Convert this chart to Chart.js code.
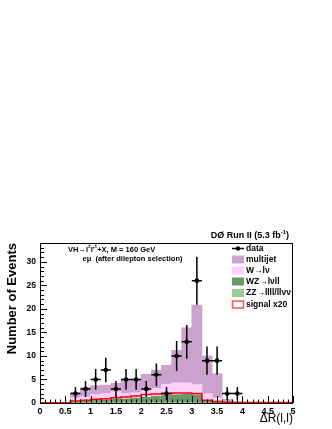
<!DOCTYPE html>
<html>
<head>
<meta charset="utf-8">
<script src="https://cdn.jsdelivr.net/npm/chart.js@4.4.0/dist/chart.umd.min.js"></script>
<style>
  html, body { margin: 0; padding: 0; background: #fff; }
</style>
</head>
<body>
<canvas id="drChart" width="332" height="429"></canvas>
<script>
// ΔR(l,l) bins, width 0.2
const binCenters = [0.1, 0.3, 0.5, 0.7, 0.9, 1.1, 1.3, 1.5, 1.7, 1.9, 2.1, 2.3, 2.5,
                    2.7, 2.9, 3.1, 3.3, 3.5, 3.7, 3.9, 4.1, 4.3, 4.5, 4.7, 4.9];
const binWidth = 0.2;

// backgrounds (stacked, bottom to top)
const zz = [0, 0, 0, 0.05, 0.05, 0.08, 0.08, 0.1, 0.1, 0.12, 0.12, 0.15, 0.15,
            0.15, 0.15, 0.15, 0.05, 0.03, 0.02, 0, 0, 0, 0, 0, 0];
const wz = [0, 0, 0, 0.25, 0.35, 0.47, 0.52, 0.7, 0.75, 0.93, 1.08, 1.25, 1.45,
            1.6, 1.7, 1.6, 0.5, 0.27, 0.13, 0.05, 0, 0, 0, 0, 0];
const wlnu = [0, 0, 0, 0.8, 0.9, 1.25, 1.4, 1.6, 1.15, 1.15, 1.4, 1.7, 2.4,
              2.55, 2.45, 2.15, 1.45, 0.8, 0.05, 0.05, 0, 0, 0, 0, 0];
const multijet = [0, 0, 0, 1.1, 2.0, 1.9, 1.8, 1.8, 2.9, 2.8, 3.5, 3.9, 4.0,
                  6.9, 11.7, 16.9, 8.0, 5.1, 0.6, 0.2, 0.1, 0.05, 0.05, 0.05, 0.05];

// signal x20
const signal = [0.05, 0.05, 0.05, 0.4, 0.6, 0.8, 0.9, 1.1, 1.3, 1.5, 1.8, 1.9, 2.0,
                2.1, 2.1, 2.0, 0.6, 0.3, 0.15, 0.1, 0.1, 0.1, 0.1, 0.1, 0.1];

// data and errors
const dataCounts = [0, 0, 0, 2, 3, 5, 7, 3, 5, 5, 3, 6, 2, 10, 13, 26, 9, 9, 2, 2, 0, 0, 0, 0, 0];
const dataErr = [0, 0, 0, 1.4, 1.7, 2.2, 2.6, 1.7, 2.2, 2.2, 1.7, 2.4, 1.4,
                 3.2, 3.6, 5.1, 3.0, 3.0, 1.4, 1.4, 0, 0, 0, 0, 0];

const FONT = "'Liberation Sans', Arial, Helvetica, sans-serif";

const toPts = (vals) => binCenters.map((c, i) => ({ x: c, y: vals[i] }));

// step line through bin edges
const sigPts = binCenters.map((c, i) => ({ x: c - binWidth / 2, y: signal[i] }));
sigPts.push({ x: binCenters[binCenters.length - 1] + binWidth / 2, y: signal[signal.length - 1] });

const dataPts = binCenters
    .map((c, i) => ({ x: c, y: dataCounts[i], err: dataErr[i] }))
    .filter((p) => p.y > 0);

const barDs = (label, vals, color) => ({
    type: "bar",
    label,
    data: toPts(vals),
    backgroundColor: color,
    borderWidth: 0,
    barPercentage: 1,
    categoryPercentage: 1,
    stack: "bg",
    order: 2,
});

const frameTicks = {
    id: "frameTicks",
    afterDatasetsDraw(chart) {
        const { ctx, chartArea: a, scales: { x, y } } = chart;
        ctx.save();
        // data error bars
        const di = chart.data.datasets.findIndex((d) => d.label === "data");
        ctx.strokeStyle = "#000";
        ctx.lineWidth = 1.5;
        ctx.beginPath();
        chart.data.datasets[di].data.forEach((p) => {
            const px = x.getPixelForValue(p.x);
            const py = y.getPixelForValue(p.y);
            ctx.moveTo(px, y.getPixelForValue(p.y + p.err));
            ctx.lineTo(px, y.getPixelForValue(Math.max(0, p.y - p.err)));
            ctx.moveTo(x.getPixelForValue(p.x - binWidth / 2), py);
            ctx.lineTo(x.getPixelForValue(p.x + binWidth / 2), py);
        });
        ctx.stroke();

        // frame + inward ticks
        ctx.lineWidth = 1;
        ctx.strokeRect(a.left + 0.5, a.top + 0.5, a.right - a.left - 1, a.bottom - a.top);
        ctx.beginPath();
        for (let v = 0; v <= 34; v++) {
            const py = Math.round(y.getPixelForValue(v)) + 0.5;
            const len = v % 5 === 0 ? 7 : 4;
            ctx.moveTo(a.left, py);
            ctx.lineTo(a.left + len, py);
        }
        for (let i = 0; i <= 50; i++) {
            const px = Math.round(x.getPixelForValue(i / 10)) + 0.5;
            const len = i % 5 === 0 ? 7 : 3.5;
            ctx.moveTo(px, a.bottom);
            ctx.lineTo(px, a.bottom - len);
        }
        ctx.stroke();
        ctx.restore();
    },
};

// draw text runs with superscripts
function drawRuns(ctx, runs, x, y, size, weight, align) {
    const fontFor = (sup) => `${weight} ${sup ? size * 0.65 : size}px ${FONT}`;
    let total = 0;
    runs.forEach((r) => { ctx.font = fontFor(r.sup); total += ctx.measureText(r.t).width; });
    let cx = align === "right" ? x - total : x;
    ctx.textAlign = "left";
    ctx.textBaseline = "middle";
    runs.forEach((r) => {
        ctx.font = fontFor(r.sup);
        ctx.fillText(r.t, cx, r.sup ? y - size * 0.35 : y);
        cx += ctx.measureText(r.t).width;
    });
}

const annotations = {
    id: "annotations",
    afterDraw(chart) {
        const { ctx } = chart;
        ctx.save();
        ctx.fillStyle = "#000";

        drawRuns(ctx, [{ t: "DØ Run II (5.3 fb" }, { t: "-1", sup: true }, { t: ")" }],
            289, 235.5, 9, "bold", "right");

        drawRuns(ctx, [{ t: "VH→l" }, { t: "±", sup: true }, { t: "l'" }, { t: "±", sup: true },
            { t: "+X, M = 160 GeV" }], 68, 249.5, 7.5, "bold", "left");
        drawRuns(ctx, [{ t: "eμ  (after dilepton selection)" }], 82.5, 259, 7.5, "bold", "left");

        // legend
        const lx = 232, tx = 246;
        const rows = [
            { label: "data", kind: "data", y: 248.5 },
            { label: "multijet", color: "#cca3ce", y: 259.5 },
            { label: "W→lν", color: "#ffd0fc", y: 270.5 },
            { label: "WZ→lνll", color: "#699869", y: 281.5 },
            { label: "ZZ→llll/llνν", color: "#99cc99", y: 293 },
            { label: "signal x20", kind: "line", y: 304.5 },
        ];
        rows.forEach((r) => {
            if (r.kind === "data") {
                ctx.strokeStyle = "#000";
                ctx.lineWidth = 1.5;
                ctx.beginPath();
                ctx.moveTo(lx, r.y);
                ctx.lineTo(lx + 12, r.y);
                ctx.stroke();
                ctx.beginPath();
                ctx.arc(lx + 6, r.y, 2.2, 0, Math.PI * 2);
                ctx.fill();
            } else if (r.kind === "line") {
                ctx.strokeStyle = "#ff5050";
                ctx.lineWidth = 1.5;
                ctx.strokeRect(lx + 0.5, r.y - 3.5, 11, 7);
            } else {
                ctx.fillStyle = r.color;
                ctx.fillRect(lx, r.y - 4, 12, 8);
            }
            ctx.fillStyle = "#000";
            drawRuns(ctx, [{ t: r.label }], tx, r.y, 8.5, "bold", "left");
        });
        ctx.restore();
    },
};

new Chart(document.getElementById("drChart"), {
    type: "bar",
    data: {
        datasets: [
            barDs("ZZ→llll/llνν", zz, "#99cc99"),
            barDs("WZ→lνll", wz, "#699869"),
            barDs("W→lν", wlnu, "#ffd0fc"),
            barDs("multijet", multijet, "#cca3ce"),
            {
                type: "line",
                label: "signal x20",
                data: sigPts,
                stepped: true,
                borderColor: "#ff0000",
                borderWidth: 1.5,
                pointRadius: 0,
                fill: false,
                stack: "sig",
                order: 1,
            },
            {
                type: "line",
                label: "data",
                data: dataPts,
                showLine: false,
                pointRadius: 2.3,
                pointBackgroundColor: "#000",
                pointBorderColor: "#000",
                pointBorderWidth: 0,
                stack: "data",
                order: 0,
            },
        ],
    },
    options: {
        responsive: false,
        animation: false,
        layout: { padding: { top: 243, right: 39, left: 0, bottom: 0 } },
        plugins: {
            legend: { display: false },
            tooltip: { enabled: false },
        },
        scales: {
            x: {
                type: "linear",
                min: 0,
                max: 5,
                offset: false,
                stacked: true,
                grid: { display: false, drawTicks: false, offset: false },
                border: { display: false },
                ticks: {
                    stepSize: 0.5,
                    autoSkip: false,
                    maxRotation: 0,
                    padding: 3,
                    color: "#000",
                    font: { family: FONT, size: 9, weight: "bold" },
                    callback: (v) => String(Math.round(v * 10) / 10),
                },
                title: {
                    display: true,
                    text: "ΔR(l,l)",
                    align: "end",
                    color: "#000",
                    font: { family: FONT, size: 12 },
                    padding: { top: 0, bottom: 3 },
                },
                afterFit: (s) => { s.height = 26; },
            },
            y: {
                min: 0,
                max: 34,
                stacked: true,
                grid: { display: false, drawTicks: false },
                border: { display: false },
                ticks: {
                    stepSize: 5,
                    includeBounds: false,
                    padding: 4,
                    color: "#000",
                    font: { family: FONT, size: 8.5, weight: "bold" },
                },
                title: {
                    display: true,
                    text: "Number of Events",
                    align: "end",
                    color: "#000",
                    font: { family: FONT, size: 13, weight: "bold" },
                    padding: { top: 5, bottom: 0 },
                },
                afterFit: (s) => { s.width = 40; },
            },
        },
    },
    plugins: [frameTicks, annotations],
});
</script>
</body>
</html>
